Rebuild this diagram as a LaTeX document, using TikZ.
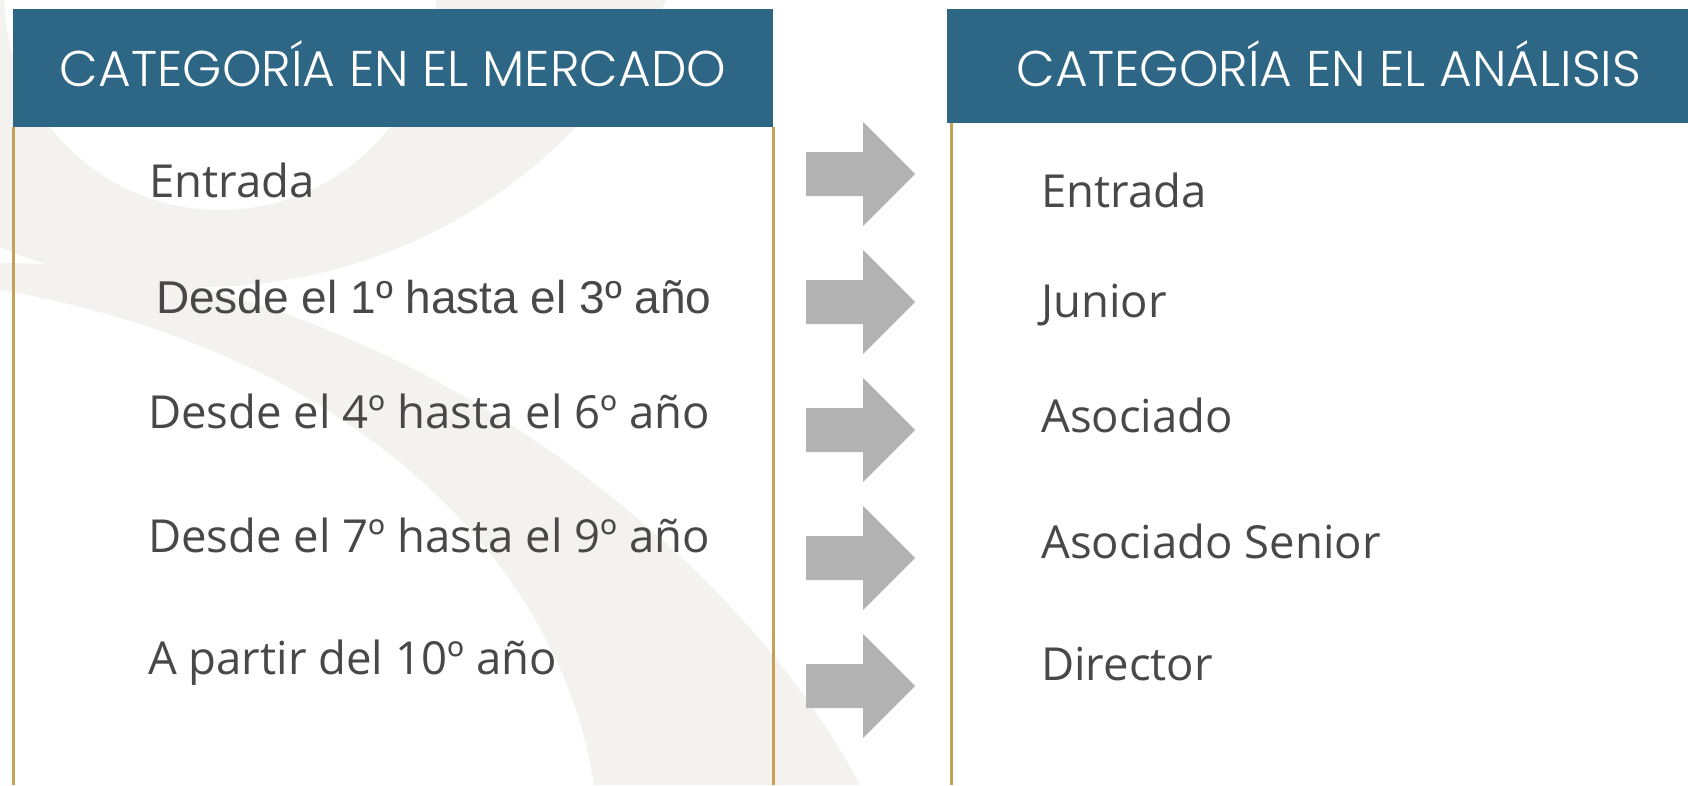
\documentclass[tikz,border=0pt]{standalone}
\usepackage{fontspec}
\setmainfont{Open Sans}
\IfFontExistsTF{Poppins Light}{\newfontfamily\hdrfont{Poppins Light}}{\newfontfamily\hdrfont{Poppins}}
\newfontfamily\arialfont{Liberation Sans}
\usepackage{tikz}
\usetikzlibrary{positioning}

\definecolor{hdrblue}{HTML}{2E6686}
\definecolor{goldrule}{HTML}{C4A158}
\definecolor{swoosh}{HTML}{F4F2EE}
\definecolor{blkgray}{HTML}{B3B3B3}
\definecolor{txtgray}{HTML}{484848}

\begin{document}
\begin{tikzpicture}[x=1pt,y=-1pt,
                    hdr/.style={text=white,anchor=base,inner sep=0pt,
                    font=\hdrfont\fontsize{50.2}{50}\selectfont},
                    itm/.style={text=txtgray,anchor=base west,inner sep=0pt,
                    font=\fontsize{45.5}{45.5}\selectfont},
                    gld/.style={goldrule,line width=3pt},
                    blk/.style={fill=blkgray}]
    \useasboundingbox (0,0) rectangle (1688,785);
    % faint background swooshes
    \begin{scope}
        \clip (0,0) rectangle (1688,785);
        \fill[swoosh,even odd rule] (200,-235) circle (522) (220,-6) circle (216);
        \fill[swoosh] (0,263) .. controls (350,260) and (720,520) .. (860,785)
            -- (594,785) .. controls (560,560) and (350,350) .. (0,290) -- cycle;
    \end{scope}

    % headers
    \fill[hdrblue] (13,9) rectangle (773,127);
    \fill[hdrblue] (947,9) rectangle (1688,123);
    \node[hdr](hl) at (393,86) {CATEGORÍA EN EL MERCADO};
    \node[hdr](hr) at (1329,86) {CATEGORÍA EN EL ANÁLISIS};

    % gold side rules
    \draw[gld] (13,127) -- (13,785);
    \draw[gld] (773,127) -- (773,785);
    \draw[gld] (951,123) -- (951,785);

    % market categories
    \node[itm](l1) at (149,197) {Entrada};
    \node[itm,font=\arialfont\fontsize{46}{46}\selectfont](l2) at (156,313) {Desde el 1º hasta el 3º año};
    \node[itm](l3) at (148,428) {Desde el 4º hasta el 6º año};
    \node[itm](l4) at (148,552) {Desde el 7º hasta el 9º año};
    \node[itm](l5) at (148,674) {A partir del 10º año};

    % analysis categories
    \node[itm](r1) at (1041,207) {Entrada};
    \node[itm](r2) at (1041,317) {Junior};
    \node[itm](r3) at (1041,432) {Asociado};
    \node[itm](r4) at (1041,558) {Asociado Senior};
    \node[itm](r5) at (1041,680) {Director};

    % block arrows
    \foreach \y in {174,302,430,558,686}
        \fill[blk] (806,{\y-22}) -- (863,{\y-22}) -- (863,{\y-52}) -- (915,\y)
            -- (863,{\y+52}) -- (863,{\y+22}) -- (806,{\y+22}) -- cycle;

\end{tikzpicture}
\end{document}
